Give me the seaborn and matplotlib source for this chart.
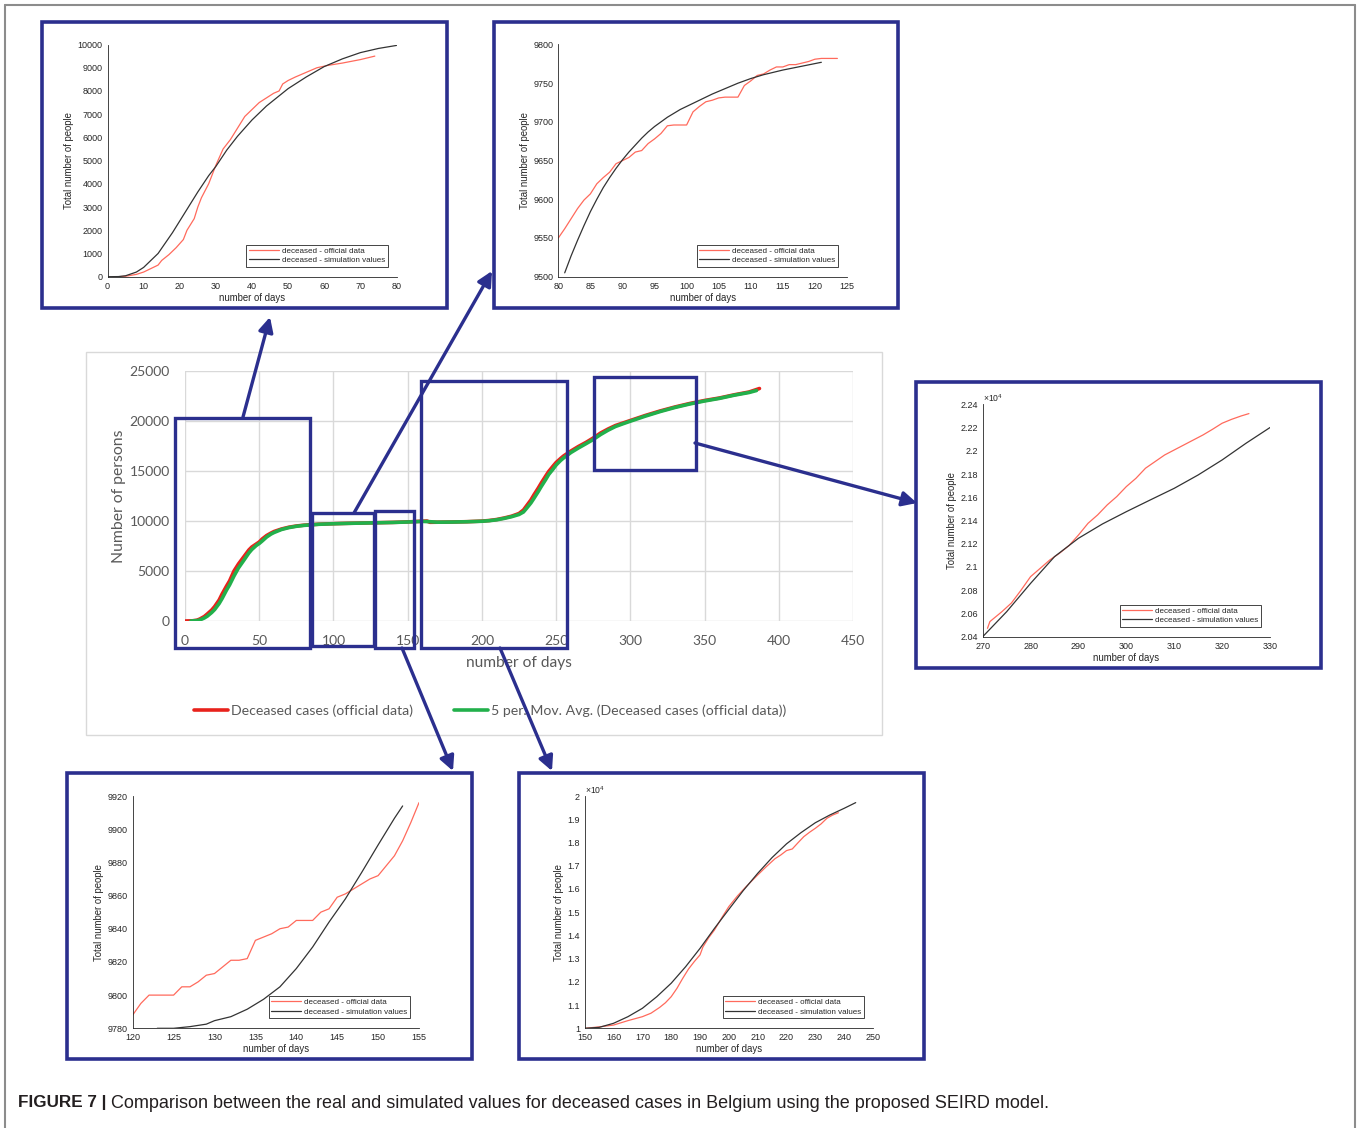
import matplotlib
matplotlib.use("Agg")
import matplotlib.pyplot as plt
import seaborn as sns
from matplotlib.patches import Rectangle, FancyArrowPatch
from matplotlib.lines import Line2D
from matplotlib.ticker import MultipleLocator, FuncFormatter

# Figure size in pixels (dpi 100)
W, H = 1357, 1128

# --- main chart: cumulative deceased cases in Belgium (Excel style) ---
MAIN_DAYS = [0, 5, 8, 10, 13, 15, 18, 20, 23, 25, 28, 30, 33, 36, 40, 43, 45, 48, 50, 52,
             55, 58, 60, 65, 70, 75, 80, 90, 100, 110, 120, 130, 140, 150, 160, 163, 165,
             170, 180, 190, 200, 205, 210, 215, 220, 225, 228, 230, 233, 235, 238, 240,
             243, 245, 248, 250, 253, 255, 260, 265, 270, 275, 280, 285, 290, 295, 300,
             310, 320, 330, 340, 350, 360, 370, 380, 387]
MAIN_OFFICIAL = [0, 20, 80, 200, 450, 700, 1100, 1450, 2100, 2700, 3500, 4000, 5000, 5700,
                 6500, 7100, 7400, 7700, 7900, 8200, 8550, 8800, 8950, 9200, 9380, 9500,
                 9580, 9680, 9730, 9770, 9800, 9830, 9860, 9910, 9980, 10000, 9870, 9880,
                 9900, 9930, 9990, 10050, 10150, 10300, 10480, 10750, 11100, 11500, 12100,
                 12600, 13300, 13800, 14500, 14950, 15500, 15850, 16250, 16500, 17000,
                 17450, 17850, 18300, 18800, 19200, 19550, 19800, 20050, 20550, 21000,
                 21400, 21750, 22050, 22300, 22620, 22900, 23250]
MA_DAYS = [4, 8, 10, 13, 15, 18, 20, 23, 25, 28, 30, 33, 36, 40, 43, 45, 48, 50, 52, 55, 58,
           60, 65, 70, 75, 80, 90, 100, 110, 120, 130, 140, 150, 160, 165, 170, 180, 190,
           200, 205, 210, 215, 220, 225, 228, 230, 233, 235, 238, 240, 243, 245, 248, 250,
           253, 255, 260, 265, 270, 275, 280, 285, 290, 295, 300, 310, 320, 330, 340, 350,
           360, 370, 380, 385]
MA_VALUES = [0, 40, 100, 300, 480, 850, 1150, 1750, 2250, 3100, 3600, 4500, 5300, 6150, 6800,
             7150, 7550, 7750, 8000, 8400, 8700, 8850, 9150, 9340, 9470, 9560, 9670, 9725,
             9765, 9795, 9825, 9855, 9900, 9960, 9930, 9880, 9895, 9925, 9975, 10030, 10120,
             10260, 10430, 10650, 10900, 11250, 11800, 12250, 12950, 13450, 14150, 14650,
             15200, 15600, 16050, 16300, 16850, 17300, 17720, 18150, 18650, 19080, 19450,
             19720, 19980, 20480, 20940, 21350, 21700, 22000, 22260, 22580, 22850, 23050]
MAIN_XTICKS = list(range(0, 451, 50))
MAIN_YTICKS = list(range(0, 25001, 5000))

# zoom windows drawn on the main chart (day_from, day_to, value_from, value_to)
ZOOM_WINDOWS = [(-6.7, 84.2, -2670, 20300),
                (85.6, 127.0, -2500, 10770),
                (128.0, 154.5, -2670, 10970),
                (159.0, 257.4, -2670, 23970),
                (275.5, 344.3, 15100, 24400)]

# --- inset 1: days 0-80 ---
P1_DAYS = [3, 5, 8, 10, 12, 14, 15, 17, 19, 21, 22, 24, 25, 26, 28, 30, 32, 34, 36, 38, 40,
           42, 44, 46, 47.5, 48.5, 50, 52, 55, 58, 61, 65, 70, 74]
P1_OFFICIAL = [0, 20, 100, 200, 350, 500, 700, 950, 1250, 1600, 2000, 2500, 3000, 3400, 4000,
               4800, 5500, 5900, 6400, 6900, 7200, 7500, 7700, 7900, 8000, 8300, 8450, 8600,
               8800, 9000, 9100, 9200, 9350, 9500]
P1_SIM_DAYS = [0, 3, 5, 8, 10, 12, 14, 16, 18, 20, 22, 25, 28, 30, 33, 36, 40, 44, 48, 50, 55,
               60, 65, 70, 75, 80]
P1_SIM = [0, 5, 40, 200, 400, 700, 1000, 1450, 1900, 2400, 2900, 3650, 4350, 4750, 5450, 6050,
          6750, 7350, 7850, 8100, 8600, 9050, 9380, 9650, 9830, 9960]

# --- inset 2: days 80-125 ---
P2_DAYS = list(range(80, 123)) + [123.5]
P2_OFFICIAL = [9550, 9562, 9575, 9588, 9599, 9607, 9620, 9628, 9635, 9646, 9650, 9654, 9661,
               9663, 9672, 9678, 9685, 9695, 9696, 9696, 9696, 9713, 9720, 9726, 9728, 9731,
               9732, 9732, 9732, 9747, 9753, 9760, 9762, 9767, 9771, 9771, 9774, 9774, 9776,
               9778, 9781, 9782, 9782, 9782]
P2_SIM_DAYS = [81, 82, 83, 84, 85, 86, 87, 88, 89, 90, 91, 92, 93, 94, 95, 96, 97, 98, 99, 100,
               102, 104, 106, 108, 110, 112, 115, 118, 121]
P2_SIM = [9505, 9527, 9547, 9566, 9584, 9600, 9615, 9628, 9640, 9651, 9661, 9670, 9679, 9687,
          9694, 9700, 9706, 9711, 9716, 9720, 9728, 9736, 9743, 9750, 9756, 9761, 9767, 9772,
          9777]

# --- inset 3: days 270-330 ---
P3_DAYS = [271, 271.5, 273, 274, 276, 278, 280, 282, 284, 286, 288, 290, 292, 294, 296, 298,
           300, 302, 304, 306, 308, 310, 312, 314, 316, 318, 320, 322, 324, 325.6]
P3_OFFICIAL = [20472, 20530, 20581, 20615, 20690, 20800, 20917, 20988, 21060, 21117, 21183,
               21275, 21376, 21448, 21534, 21606, 21692, 21763, 21850, 21907, 21964, 22007,
               22050, 22093, 22136, 22185, 22237, 22271, 22300, 22320]
P3_SIM_DAYS = [270, 275, 280, 285, 290, 295, 300, 305, 310, 315, 320, 325, 330]
P3_SIM = [20400, 20615, 20859, 21089, 21247, 21370, 21476, 21577, 21677, 21792, 21921, 22065,
          22200]

# --- inset 4: days 120-155 ---
P4_DAYS = list(range(120, 156))
P4_OFFICIAL = [9788, 9795, 9800, 9800, 9800, 9800, 9805, 9805, 9808, 9812, 9813, 9817, 9821,
               9821, 9822, 9833, 9835, 9837, 9840, 9841, 9845, 9845, 9845, 9850, 9852, 9859,
               9861, 9864, 9867, 9870, 9872, 9878, 9884, 9893, 9904, 9916]
P4_SIM_DAYS = [123, 125, 127, 129, 130, 132, 134, 136, 138, 140, 142, 144, 146, 148, 150, 152,
               153]
P4_SIM = [9780, 9780, 9781, 9782.5, 9784.6, 9787, 9791.5, 9797.5, 9805, 9816, 9829, 9844, 9858,
          9874, 9890.5, 9906.6, 9914]

# --- inset 5: days 150-250 ---
P5_DAYS = [150, 155, 160, 165, 170, 173, 176, 178, 180, 182, 184, 186, 188, 190, 191, 193, 195,
           198, 200, 203, 206, 210, 213, 216, 218, 220, 222, 224, 226, 228, 230, 232, 234, 236,
           238]
P5_OFFICIAL = [10000, 10060, 10140, 10330, 10500, 10650, 10900, 11100, 11360, 11720, 12150,
               12550, 12870, 13160, 13500, 13900, 14230, 14850, 15240, 15700, 16100, 16600,
               16960, 17300, 17460, 17650, 17720, 17990, 18250, 18440, 18610, 18800, 19040,
               19180, 19280]
P5_SIM_DAYS = [150, 155, 160, 165, 170, 175, 180, 185, 190, 195, 200, 205, 210, 215, 220, 225,
               230, 235, 240, 244]
P5_SIM = [10000, 10040, 10215, 10500, 10860, 11360, 11940, 12650, 13440, 14300, 15120, 15930,
          16670, 17350, 17940, 18420, 18850, 19180, 19470, 19715]

CAPTION_HEAD = "FIGURE 7 |"
CAPTION = ("Comparison between the real and simulated values for deceased cases in Belgium "
           "using the proposed SEIRD model.")

NAVY = "#2b2f8e"
MAIN_RED = "#e8221c"
MAIN_GREEN = "#22b04b"
INSET_RED = "#ff6a5c"
INSET_BLACK = "#333333"
EXCEL_TEXT = "#595959"
MATLAB_TEXT = "#262626"
EXCEL_FONT = ["Lato", "DejaVu Sans"]

sns.set_style("white")
plt.rcParams["font.family"] = ["Liberation Sans", "DejaVu Sans"]
plt.rcParams["mathtext.default"] = "regular"


def px_rect(x0, y0, x1, y1):
    # pixel box (top-left origin) -> figure fraction [left, bottom, width, height]
    return [x0 / W, 1 - y1 / H, (x1 - x0) / W, (y1 - y0) / H]


def fpt(x, y):
    return (x / W, 1 - y / H)


fig = plt.figure(figsize=(W / 100, H / 100), dpi=100)

# outer page frame (open at bottom)
for a, b in [((5, 1128), (5, 5)), ((5, 5), (1355, 5)), ((1355, 5), (1355, 1128))]:
    fig.add_artist(Line2D([a[0] / W, b[0] / W], [1 - a[1] / H, 1 - b[1] / H],
                          transform=fig.transFigure, color="#8c8c8c", lw=1.5))

# ---------------- main chart ----------------
fig.add_artist(Rectangle(fpt(86, 735), 796 / W, 383 / H, transform=fig.transFigure,
                         fill=False, edgecolor="#d9d9d9", lw=1))
axm = fig.add_axes(px_rect(185, 371, 853, 621))
sns.lineplot(x=MAIN_DAYS, y=MAIN_OFFICIAL, ax=axm, color=MAIN_RED, lw=2.6,
             label="Deceased cases (official data)")
sns.lineplot(x=MA_DAYS, y=MA_VALUES, ax=axm, color=MAIN_GREEN, lw=2.6,
             label="5 per. Mov. Avg. (Deceased cases (official data))")
axm.set_xlim(0, 450)
axm.set_ylim(0, 25000)
axm.set_xticks(MAIN_XTICKS)
axm.set_yticks(MAIN_YTICKS)
axm.set_axisbelow(True)
axm.grid(True, color="#d9d9d9", lw=1)
for s in axm.spines.values():
    s.set_visible(False)
axm.tick_params(length=0, labelsize=10, labelcolor=EXCEL_TEXT)
axm.tick_params(axis="y", pad=11)
axm.tick_params(axis="x", pad=10)
for t in axm.get_xticklabels() + axm.get_yticklabels():
    t.set_family(EXCEL_FONT)
axm.set_xlabel("number of days", fontsize=11.2, color=EXCEL_TEXT, family=EXCEL_FONT)
axm.set_ylabel("Number of persons", fontsize=11.3, color=EXCEL_TEXT, family=EXCEL_FONT)
axm.xaxis.set_label_coords(0.5, -0.14)
axm.yaxis.set_label_coords(-0.088, 0.5)
handles, labels = axm.get_legend_handles_labels()
axm.get_legend().remove()
fig.legend(handles, labels, loc="center left", bbox_to_anchor=fpt(194, 711), ncol=2,
           frameon=False, borderaxespad=0, borderpad=0, handlelength=2.4,
           handletextpad=0.2, columnspacing=2.9, prop={"family": EXCEL_FONT, "size": 10.2},
           labelcolor=EXCEL_TEXT)

for d0, d1, v0, v1 in ZOOM_WINDOWS:
    axm.add_patch(Rectangle((d0, v0), d1 - d0, v1 - v0, fill=False, edgecolor=NAVY, lw=2.4,
                            clip_on=False, zorder=5))

# arrows from the zoom windows to the insets (figure pixels)
ARROWS = [((243, 417), (270, 317)), ((354, 513), (492, 271)), ((695, 443), (917, 503)),
          ((402, 648), (453, 771)), ((500, 648), (552, 771))]
for a, b in ARROWS:
    fig.add_artist(FancyArrowPatch(fpt(*a), fpt(*b), transform=fig.transFigure,
                                   arrowstyle="-|>", mutation_scale=22, color=NAVY, lw=2.4,
                                   shrinkA=0, shrinkB=0))


# ---------------- insets ----------------
def inset(frame_px, axes_px, off_x, off_y, sim_x, sim_y, xlim, xstep, ylim, ystep,
          scaled=False):
    x0, y0, x1, y1 = frame_px
    fig.add_artist(Rectangle(fpt(x0, y1), (x1 - x0) / W, (y1 - y0) / H,
                             transform=fig.transFigure, fill=False, edgecolor=NAVY, lw=2.6))
    ax = fig.add_axes(px_rect(*axes_px))
    sns.lineplot(x=off_x, y=off_y, ax=ax, color=INSET_RED, lw=0.9,
                 label="deceased - official data")
    sns.lineplot(x=sim_x, y=sim_y, ax=ax, color=INSET_BLACK, lw=0.9,
                 label="deceased - simulation values")
    ax.set_xlim(*xlim)
    ax.set_ylim(*ylim)
    ax.xaxis.set_major_locator(MultipleLocator(xstep))
    ax.yaxis.set_major_locator(MultipleLocator(ystep))
    if scaled:
        ax.yaxis.set_major_formatter(FuncFormatter(lambda v, p: f"{v / 1e4:g}"))
        ax.text(0.0, 1.0, r"$\times10^{4}$", transform=ax.transAxes, fontsize=6.2,
                color=MATLAB_TEXT, ha="left", va="bottom")
    ax.spines["top"].set_visible(False)
    ax.spines["right"].set_visible(False)
    for s in ("left", "bottom"):
        ax.spines[s].set_linewidth(0.6)
        ax.spines[s].set_color(MATLAB_TEXT)
    ax.tick_params(direction="in", length=2.5, width=0.6, labelsize=6.5,
                   colors=MATLAB_TEXT, pad=3.5)
    ax.set_xlabel("number of days", fontsize=6.9, color=MATLAB_TEXT, labelpad=1.5)
    ax.set_ylabel("Total number of people", fontsize=6.9, color=MATLAB_TEXT, labelpad=2.5)
    w = axes_px[2] - axes_px[0]
    h = axes_px[3] - axes_px[1]
    leg = ax.legend(loc="lower right", bbox_to_anchor=(1 - 9 / w, 10 / h), borderaxespad=0,
                    fontsize=5.8, fancybox=False, framealpha=1, edgecolor=MATLAB_TEXT,
                    handlelength=3.7, handletextpad=0.4, borderpad=0.3, labelspacing=0.25)
    leg.get_frame().set_linewidth(0.6)
    return ax


inset((42, 22, 447, 308), (107.5, 44.5, 396.5, 276.7), P1_DAYS, P1_OFFICIAL,
      P1_SIM_DAYS, P1_SIM, (0, 80), 10, (0, 10000), 1000)
inset((494, 22, 898, 308), (558.3, 44.5, 847, 276.7), P2_DAYS, P2_OFFICIAL,
      P2_SIM_DAYS, P2_SIM, (80, 125), 5, (9500, 9800), 50)
inset((916, 382, 1321, 668), (982.7, 404.3, 1270, 636.7), P3_DAYS, P3_OFFICIAL,
      P3_SIM_DAYS, P3_SIM, (270, 330), 10, (20400, 22400), 200, scaled=True)
inset((67, 773, 472, 1059), (132.7, 796, 419, 1028.3), P4_DAYS, P4_OFFICIAL,
      P4_SIM_DAYS, P4_SIM, (120, 155), 5, (9780, 9920), 20)
inset((519, 773, 924, 1059), (584.7, 796, 873, 1028.3), P5_DAYS, P5_OFFICIAL,
      P5_SIM_DAYS, P5_SIM, (150, 250), 10, (10000, 20000), 1000, scaled=True)

# ---------------- caption ----------------
head = fig.text(18 / W, 1 - 1103 / H, CAPTION_HEAD, fontsize=12.3, fontweight="bold",
                family=["Liberation Sans", "DejaVu Sans"],
                color="#231f20", va="center", ha="left")
fig.canvas.draw()
bb = head.get_window_extent(fig.canvas.get_renderer())
fig.text((bb.x1 + 5) / W, 1 - 1103 / H, CAPTION, fontsize=13.0,
         family=["Liberation Sans", "DejaVu Sans"], color="#231f20", va="center", ha="left")

fig.savefig("out.png", dpi=100)
